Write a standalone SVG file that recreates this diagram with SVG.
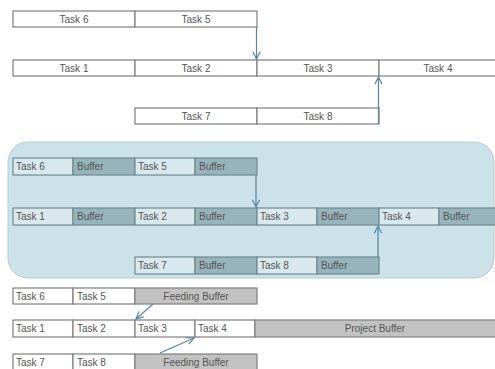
<svg xmlns="http://www.w3.org/2000/svg" width="495" height="369" viewBox="0 0 495 369">
  <defs>
    <marker id="arrow" viewBox="0 0 10 10" refX="9" refY="5" markerWidth="9" markerHeight="9" markerUnits="userSpaceOnUse" orient="auto">
      <polyline points="1,1 9,5 1,9" fill="none" stroke="#4f86a6" stroke-width="1.3"/>
    </marker>
    <style>
      text { font-family: "Liberation Sans", Arial, sans-serif; font-size: 10px; fill: #555; dominant-baseline: central; }
      .c { text-anchor: middle; }
      .plain { fill: #ffffff; stroke: #7f7f7f; stroke-width: 1.2; }
      .task { fill: #d8e8ec; stroke: #6f8990; stroke-width: 1.2; }
      .buf { fill: #97b3bb; stroke: #6f8990; stroke-width: 1.2; }
      .grey { fill: #c2c2c2; stroke: #7f7f7f; stroke-width: 1.2; }
      .panel { fill: #cbe2e8; stroke: #b4cdd4; stroke-width: 1; }
      .link { fill: none; stroke: #4f86a6; stroke-width: 1.2; marker-end: url(#arrow); }
      .link2 { fill: none; stroke: #5a7e8c; stroke-width: 1.2; marker-end: url(#arrow); }
    </style>
  </defs>
  <rect width="495" height="369" fill="#ffffff"/>

  <!-- Plain schedule -->
  <g id="plain-row1">
    <rect class="plain" x="13" y="11" width="122" height="16"/><text class="c" x="74" y="19">Task 6</text>
    <rect class="plain" x="135" y="11" width="122" height="16"/><text class="c" x="196" y="19">Task 5</text>
  </g>
  <g id="plain-row2">
    <rect class="plain" x="13" y="60" width="122" height="16"/><text class="c" x="74" y="68">Task 1</text>
    <rect class="plain" x="135" y="60" width="122" height="16"/><text class="c" x="196" y="68">Task 2</text>
    <rect class="plain" x="257" y="60" width="122" height="16"/><text class="c" x="318" y="68">Task 3</text>
    <rect class="plain" x="379" y="60" width="122" height="16"/><text class="c" x="438" y="68">Task 4</text>
  </g>
  <g id="plain-row3">
    <rect class="plain" x="135" y="108" width="122" height="16"/><text class="c" x="196" y="116">Task 7</text>
    <rect class="plain" x="257" y="108" width="122" height="16"/><text class="c" x="318" y="116">Task 8</text>
  </g>

  <!-- Buffered schedule panel -->
  <rect class="panel" x="8" y="142" width="486" height="136" rx="20" ry="20"/>
  <g id="buf-row1">
    <rect class="task" x="13" y="158" width="60" height="17"/><text x="16" y="166.5">Task 6</text>
    <rect class="buf" x="73" y="158" width="62" height="17"/><text x="77" y="166.5">Buffer</text>
    <rect class="task" x="135" y="158" width="60" height="17"/><text x="138" y="166.5">Task 5</text>
    <rect class="buf" x="195" y="158" width="62" height="17"/><text x="199" y="166.5">Buffer</text>
  </g>
  <g id="buf-row2">
    <rect class="task" x="13" y="208" width="60" height="17"/><text x="16" y="216.5">Task 1</text>
    <rect class="buf" x="73" y="208" width="62" height="17"/><text x="77" y="216.5">Buffer</text>
    <rect class="task" x="135" y="208" width="60" height="17"/><text x="138" y="216.5">Task 2</text>
    <rect class="buf" x="195" y="208" width="62" height="17"/><text x="199" y="216.5">Buffer</text>
    <rect class="task" x="257" y="208" width="60" height="17"/><text x="260" y="216.5">Task 3</text>
    <rect class="buf" x="317" y="208" width="62" height="17"/><text x="321" y="216.5">Buffer</text>
    <rect class="task" x="379" y="208" width="60" height="17"/><text x="382" y="216.5">Task 4</text>
    <rect class="buf" x="439" y="208" width="62" height="17"/><text x="443" y="216.5">Buffer</text>
  </g>
  <g id="buf-row3">
    <rect class="task" x="135" y="257" width="60" height="17"/><text x="138" y="265.5">Task 7</text>
    <rect class="buf" x="195" y="257" width="62" height="17"/><text x="199" y="265.5">Buffer</text>
    <rect class="task" x="257" y="257" width="60" height="17"/><text x="260" y="265.5">Task 8</text>
    <rect class="buf" x="317" y="257" width="62" height="17"/><text x="321" y="265.5">Buffer</text>
  </g>

  <!-- Critical chain with feeding and project buffers -->
  <g id="cc-row1">
    <rect class="plain" x="13" y="288" width="60" height="16"/><text x="16" y="296">Task 6</text>
    <rect class="plain" x="73" y="288" width="62" height="16"/><text x="77" y="296">Task 5</text>
    <rect class="grey" x="135" y="288" width="122" height="16"/><text class="c" x="196" y="296">Feeding Buffer</text>
  </g>
  <g id="cc-row2">
    <rect class="plain" x="13" y="320" width="60" height="17"/><text x="16" y="328.5">Task 1</text>
    <rect class="plain" x="73" y="320" width="62" height="17"/><text x="77" y="328.5">Task 2</text>
    <rect class="plain" x="135" y="320" width="60" height="17"/><text x="138" y="328.5">Task 3</text>
    <rect class="plain" x="195" y="320" width="60" height="17"/><text x="198" y="328.5">Task 4</text>
    <rect class="grey" x="255" y="320" width="246" height="17"/><text class="c" x="375" y="328.5">Project Buffer</text>
  </g>
  <g id="cc-row3">
    <rect class="plain" x="13" y="354" width="60" height="17"/><text x="16" y="362.5">Task 7</text>
    <rect class="plain" x="73" y="354" width="62" height="17"/><text x="77" y="362.5">Task 8</text>
    <rect class="grey" x="135" y="354" width="122" height="17"/><text class="c" x="196" y="362.5">Feeding Buffer</text>
  </g>

  <!-- Connectors -->
  <g id="connectors">
    <line class="link" x1="256.5" y1="27" x2="256.5" y2="59"/>
    <line class="link" x1="378.5" y1="124" x2="378.5" y2="77"/>
    <line class="link2" x1="256" y1="175" x2="256" y2="207"/>
    <line class="link2" x1="378" y1="257" x2="378" y2="226"/>
    <line class="link" x1="153" y1="304" x2="136" y2="319"/>
    <line class="link" x1="160" y1="353" x2="194" y2="338"/>
  </g>
</svg>
